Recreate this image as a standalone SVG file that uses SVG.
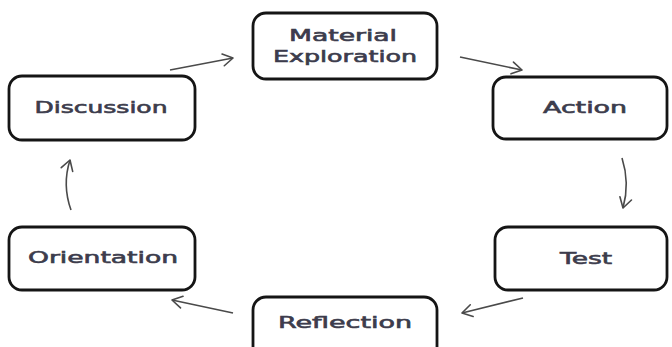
<svg xmlns="http://www.w3.org/2000/svg" width="672" height="347" viewBox="0 0 672 347">
<defs>
<style>
.box{fill:#fff;stroke:#151515;stroke-width:2.8}
.lbl{font-family:"DejaVu Sans",Verdana,sans-serif;font-size:16px;fill:#3c3c4c;stroke:#3c3c4c;stroke-width:0.6;text-anchor:middle}
.conn{fill:none;stroke:#4a4a4a;stroke-width:1.6}
</style>
<marker id="ah" markerUnits="userSpaceOnUse" markerWidth="24" markerHeight="24" viewBox="-14 -12 18 24" refX="0" refY="0" orient="auto">
<path d="M-10,-6 L0,0 L-10,6" fill="none" stroke="#4a4a4a" stroke-width="1.6" stroke-linecap="round" stroke-linejoin="round"/>
</marker>
</defs>
<rect width="672" height="347" fill="#fff"/>
<g id="connectors">
<path class="conn" d="M170,70 L233,58" marker-end="url(#ah)"/>
<path class="conn" d="M460,57 L522,70" marker-end="url(#ah)"/>
<path class="conn" d="M622,158 Q630,183 623,208" marker-end="url(#ah)"/>
<path class="conn" d="M523,298 L462,313" marker-end="url(#ah)"/>
<path class="conn" d="M233,313 L172,300" marker-end="url(#ah)"/>
<path class="conn" d="M71,210 Q62,185 70,160" marker-end="url(#ah)"/>
</g>
<g id="material">
<rect class="box" x="253" y="13" width="184" height="66" rx="13"/>
<text class="lbl" x="343" y="41" textLength="108" lengthAdjust="spacingAndGlyphs">Material</text>
<text class="lbl" x="345" y="62" textLength="144" lengthAdjust="spacingAndGlyphs">Exploration</text>
</g>
<g id="action">
<rect class="box" x="493" y="77" width="174" height="62" rx="13"/>
<text class="lbl" x="585" y="113" textLength="84" lengthAdjust="spacingAndGlyphs">Action</text>
</g>
<g id="test">
<rect class="box" x="495" y="227" width="172" height="63" rx="13"/>
<text class="lbl" x="586" y="264" textLength="52" lengthAdjust="spacingAndGlyphs">Test</text>
</g>
<g id="reflection">
<rect class="box" x="253" y="297" width="184" height="70" rx="13"/>
<text class="lbl" x="345" y="328" textLength="134" lengthAdjust="spacingAndGlyphs">Reflection</text>
</g>
<g id="orientation">
<rect class="box" x="9" y="227" width="186" height="63" rx="13"/>
<text class="lbl" x="103" y="263" textLength="150" lengthAdjust="spacingAndGlyphs">Orientation</text>
</g>
<g id="discussion">
<rect class="box" x="9" y="76" width="186" height="64" rx="13"/>
<text class="lbl" x="101" y="113" textLength="133" lengthAdjust="spacingAndGlyphs">Discussion</text>
</g>
</svg>
